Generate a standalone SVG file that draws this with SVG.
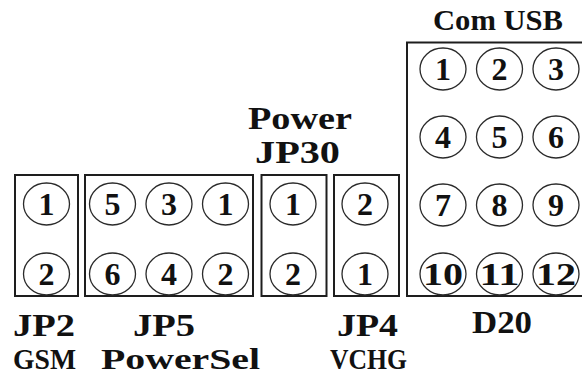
<svg xmlns="http://www.w3.org/2000/svg" width="582" height="376" viewBox="0 0 582 376">
<style>
.box{fill:none;stroke:#1e1e1e;stroke-width:2}
.pin{fill:none;stroke:#2a2a2a;stroke-width:1.3}
.d{font-family:"Liberation Serif",serif;font-weight:bold;font-size:32px;text-anchor:middle;fill:#111}
.lbl{font-family:"Liberation Serif",serif;font-weight:bold;font-size:31px;fill:#111}
.lo{font-size:30px}
</style>
<rect width="582" height="376" fill="#fff"/>
<g id="JP2">
<rect class="box" x="15" y="175" width="63" height="121"/>
<ellipse class="pin" cx="46.5" cy="204" rx="23" ry="21"/><text class="d" x="46.5" y="215">1</text>
<ellipse class="pin" cx="46.5" cy="274" rx="23" ry="21"/><text class="d" x="46.5" y="285">2</text>
<text class="lbl" x="13" y="336" textLength="62" lengthAdjust="spacingAndGlyphs">JP2</text>
<text class="lbl lo" x="13" y="369" textLength="63" lengthAdjust="spacingAndGlyphs">GSM</text>
</g>
<g id="JP5">
<rect class="box" x="85" y="175" width="168" height="121"/>
<ellipse class="pin" cx="112.5" cy="204" rx="23" ry="21"/><text class="d" x="112.5" y="215">5</text>
<ellipse class="pin" cx="169" cy="204" rx="23" ry="21"/><text class="d" x="169" y="215">3</text>
<ellipse class="pin" cx="225.5" cy="204" rx="23" ry="21"/><text class="d" x="225.5" y="215">1</text>
<ellipse class="pin" cx="112.5" cy="274" rx="23" ry="21"/><text class="d" x="112.5" y="285">6</text>
<ellipse class="pin" cx="169" cy="274" rx="23" ry="21"/><text class="d" x="169" y="285">4</text>
<ellipse class="pin" cx="225.5" cy="274" rx="23" ry="21"/><text class="d" x="225.5" y="285">2</text>
<text class="lbl" x="133" y="336" textLength="62" lengthAdjust="spacingAndGlyphs">JP5</text>
<text class="lbl lo" x="101" y="369" textLength="159" lengthAdjust="spacingAndGlyphs">PowerSel</text>
</g>
<g id="JP30">
<rect class="box" x="261.5" y="175" width="65" height="121"/>
<ellipse class="pin" cx="293" cy="204" rx="23" ry="21"/><text class="d" x="293" y="215">1</text>
<ellipse class="pin" cx="293" cy="274" rx="23" ry="21"/><text class="d" x="293" y="285">2</text>
<text class="lbl" x="248" y="129" textLength="104" lengthAdjust="spacingAndGlyphs">Power</text>
<text class="lbl" x="255" y="163" textLength="85" lengthAdjust="spacingAndGlyphs">JP30</text>
</g>
<g id="JP4">
<rect class="box" x="334" y="175" width="65" height="121"/>
<ellipse class="pin" cx="365" cy="204" rx="23" ry="21"/><text class="d" x="365" y="215">2</text>
<ellipse class="pin" cx="365" cy="274" rx="23" ry="21"/><text class="d" x="365" y="285">1</text>
<text class="lbl" x="337" y="336" textLength="61" lengthAdjust="spacingAndGlyphs">JP4</text>
<text class="lbl lo" x="330" y="369" textLength="77" lengthAdjust="spacingAndGlyphs">VCHG</text>
</g>
<g id="D20">
<rect class="box" x="407" y="42.5" width="200" height="253.5"/>
<ellipse class="pin" cx="443" cy="69" rx="23" ry="21"/><text class="d" x="443" y="80">1</text>
<ellipse class="pin" cx="499.5" cy="69" rx="23" ry="21"/><text class="d" x="499.5" y="80">2</text>
<ellipse class="pin" cx="556" cy="69" rx="23" ry="21"/><text class="d" x="556" y="80">3</text>
<ellipse class="pin" cx="443" cy="137" rx="23" ry="21"/><text class="d" x="443" y="148">4</text>
<ellipse class="pin" cx="499.5" cy="137" rx="23" ry="21"/><text class="d" x="499.5" y="148">5</text>
<ellipse class="pin" cx="556" cy="137" rx="23" ry="21"/><text class="d" x="556" y="148">6</text>
<ellipse class="pin" cx="443" cy="205" rx="23" ry="21"/><text class="d" x="443" y="216">7</text>
<ellipse class="pin" cx="499.5" cy="205" rx="23" ry="21"/><text class="d" x="499.5" y="216">8</text>
<ellipse class="pin" cx="556" cy="205" rx="23" ry="21"/><text class="d" x="556" y="216">9</text>
<ellipse class="pin" cx="443" cy="274" rx="23" ry="21"/><text class="d" x="443" y="285" textLength="40" lengthAdjust="spacingAndGlyphs">10</text>
<ellipse class="pin" cx="499.5" cy="274" rx="23" ry="21"/><text class="d" x="499.5" y="285" textLength="40" lengthAdjust="spacingAndGlyphs">11</text>
<ellipse class="pin" cx="556" cy="274" rx="23" ry="21"/><text class="d" x="556" y="285" textLength="40" lengthAdjust="spacingAndGlyphs">12</text>
<text class="lbl" x="472" y="333" textLength="60" lengthAdjust="spacingAndGlyphs">D20</text>
<text class="lbl" x="433" y="30" style="font-size:29px" textLength="130" lengthAdjust="spacingAndGlyphs">Com USB</text>
</g>
</svg>
